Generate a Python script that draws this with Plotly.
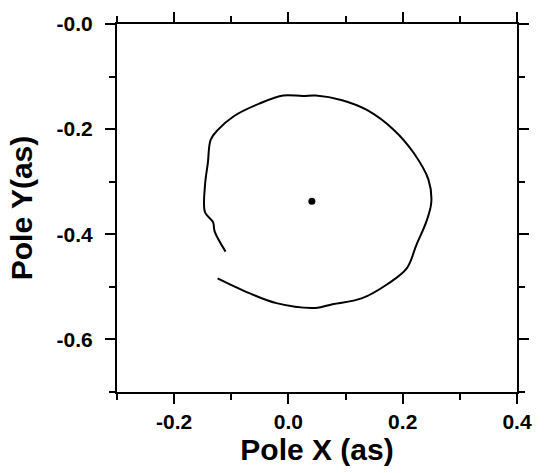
import plotly.graph_objects as go

# Polar motion trace (arcseconds)
pole_x = [-0.124, -0.077, -0.021, 0.048, 0.077, 0.128, 0.173, 0.207, 0.224, 0.241,
          0.250, 0.245, 0.219, 0.185, 0.138, 0.094, 0.048, 0.025, -0.009, -0.050,
          -0.095, -0.124, -0.136, -0.141, -0.146, -0.146, -0.132, -0.129, -0.110]
pole_y = [-0.484, -0.508, -0.531, -0.540, -0.533, -0.522, -0.495, -0.465, -0.420, -0.377,
          -0.339, -0.296, -0.245, -0.202, -0.164, -0.145, -0.136, -0.137, -0.136, -0.151,
          -0.175, -0.202, -0.220, -0.264, -0.307, -0.358, -0.377, -0.395, -0.433]
center_x = [0.041]
center_y = [-0.337]

x_tickvals = [-0.2, 0.0, 0.2, 0.4]
x_ticktext = ["-0.2", "0.0", "0.2", "0.4"]
y_tickvals = [0.0, -0.2, -0.4, -0.6]
y_ticktext = ["-0.0", "-0.2", "-0.4", "-0.6"]

fig = go.Figure()
fig.add_trace(go.Scatter(x=pole_x, y=pole_y, mode="lines",
                         line=dict(color="black", width=2, shape="spline", smoothing=1.0),
                         showlegend=False, hoverinfo="skip"))
fig.add_trace(go.Scatter(x=center_x, y=center_y, mode="markers",
                         marker=dict(color="black", size=7),
                         showlegend=False, hoverinfo="skip"))

tick_font = dict(family="Liberation Sans", size=21, color="black", weight="bold")
title_font = dict(family="Liberation Sans", size=30, color="black", weight="bold")

axis_common = dict(
    showgrid=False, zeroline=False, showline=True, linecolor="black", linewidth=2,
    mirror="ticks", ticks="outside", ticklen=10, tickwidth=2, tickcolor="black",
    tickfont=tick_font,
    minor=dict(ticks="outside", ticklen=6, tickwidth=2, tickcolor="black", dtick=0.1),
)

fig.update_xaxes(range=[-0.3, 0.4], tickvals=x_tickvals, ticktext=x_ticktext,
                 title=dict(text="Pole X (as)", standoff=6, font=title_font),
                 **axis_common)
fig.update_yaxes(range=[-0.7, 0.0], tickvals=y_tickvals, ticktext=y_ticktext,
                 ticklabelstandoff=8,
                 title=dict(text="Pole Y(as)", standoff=15, font=title_font),
                 **axis_common)

fig.update_layout(width=544, height=473, margin=dict(l=117, r=18, t=20, b=81),
                  paper_bgcolor="white", plot_bgcolor="white")

fig.write_html("out.html")
